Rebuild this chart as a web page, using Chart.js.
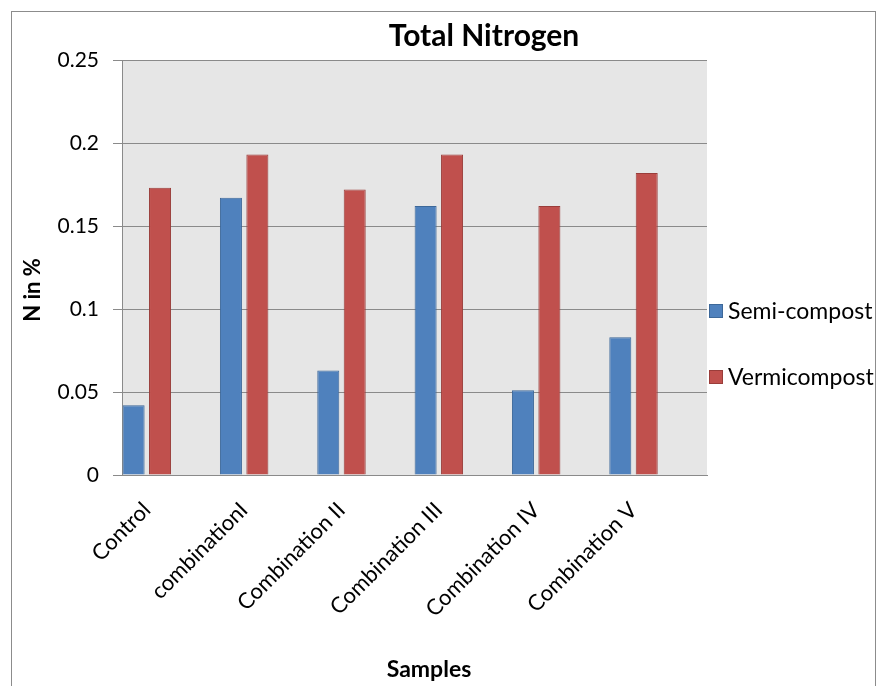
<!DOCTYPE html>
<html>
<head>
<meta charset="utf-8">
<title>Total Nitrogen</title>
<script src="https://cdn.jsdelivr.net/npm/chart.js@4.4.1/dist/chart.umd.min.js"></script>
<style>
  html, body { margin: 0; padding: 0; background: #ffffff; }
  #wrap { position: relative; width: 877px; height: 686px; }
</style>
</head>
<body>
<div id="wrap"><canvas id="chart" width="877" height="686"></canvas></div>
<script>
// Sample names along the x axis
const samples = ['Control', 'combinationI', 'Combination II', 'Combination III', 'Combination IV', 'Combination V'];

// Nitrogen content (N in %) per sample
const semiCompost = [0.042, 0.167, 0.063, 0.162, 0.051, 0.083];
const vermicompost = [0.173, 0.193, 0.172, 0.193, 0.162, 0.182];

// Value axis ticks
const yTicks = [0, 0.05, 0.1, 0.15, 0.2, 0.25];

const seriesNames = ['Semi-compost', 'Vermicompost'];
const FONT = 'Lato, "Open Sans", sans-serif';

// Grey plot background, outer frame, title, axis titles and the legend
const decorations = {
  id: 'decorations',
  beforeDraw(chart) {
    const { ctx, chartArea: a } = chart;
    ctx.save();
    ctx.fillStyle = '#ffffff';
    ctx.fillRect(0, 0, chart.width, chart.height);
    ctx.strokeStyle = '#8c8c8c';
    ctx.lineWidth = 1;
    ctx.strokeRect(11.5, 11.5, 864, 700);
    ctx.fillStyle = '#e6e6e6';
    ctx.fillRect(a.left, a.top, a.right - a.left, a.bottom - a.top);
    ctx.restore();
  },
  afterDraw(chart) {
    const { ctx } = chart;
    ctx.save();
    ctx.fillStyle = '#000000';
    ctx.textBaseline = 'alphabetic';

    // chart title
    ctx.font = 'bold 30px ' + FONT;
    ctx.textAlign = 'center';
    ctx.fillText('Total Nitrogen', 484, 46);

    // x axis title
    ctx.font = 'bold 23px ' + FONT;
    ctx.fillText('Samples', 429, 677);

    // y axis title
    ctx.font = 'bold 22px ' + FONT;
    ctx.save();
    ctx.translate(40, 290);
    ctx.rotate(-Math.PI / 2);
    ctx.textAlign = 'center';
    ctx.fillText('N in %', 0, 0);
    ctx.restore();

    // legend
    ctx.font = '23px ' + FONT;
    ctx.textAlign = 'left';
    ctx.textBaseline = 'middle';
    const rows = [311, 377];
    chart.data.datasets.forEach((ds, i) => {
      const y = rows[i];
      ctx.fillStyle = ds.backgroundColor;
      ctx.fillRect(709, y - 7, 14, 14);
      ctx.strokeStyle = ds.borderColor;
      ctx.lineWidth = 1;
      ctx.strokeRect(709.5, y - 6.5, 13, 13);
      ctx.fillStyle = '#000000';
      ctx.fillText(ds.label, 728, y + 1);
    });
    ctx.restore();
  }
};

new Chart(document.getElementById('chart'), {
  type: 'bar',
  data: {
    datasets: [
      {
        label: seriesNames[0],
        data: semiCompost.map((v, i) => ({ x: i, y: v })),
        backgroundColor: '#4f81bd',
        borderColor: '#3d6899',
        borderWidth: 1
      },
      {
        label: seriesNames[1],
        data: vermicompost.map((v, i) => ({ x: i, y: v })),
        backgroundColor: '#c0504d',
        borderColor: '#9a3d3a',
        borderWidth: 1
      }
    ]
  },
  options: {
    responsive: false,
    animation: false,
    events: [],
    categoryPercentage: 0.543,
    barPercentage: 0.833,
    layout: { padding: { left: 11, top: 60, right: 170, bottom: 0 } },
    plugins: {
      legend: { display: false },
      title: { display: false },
      tooltip: { enabled: false }
    },
    scales: {
      x: {
        type: 'linear',
        offset: false,
        min: -0.255,
        max: 5.755,
        grid: { display: false, drawTicks: false, offset: false },
        border: { display: true, color: '#8a8a8a', width: 1 },
        ticks: {
          stepSize: 1,
          includeBounds: false,
          autoSkip: false,
          minRotation: 45,
          maxRotation: 45,
          padding: 22,
          color: '#000000',
          font: { family: FONT, size: 22 },
          callback: (v) => (Number.isInteger(v) ? samples[v] : '')
        },
        afterFit(scale) { scale.height = 211; }
      },
      y: {
        min: yTicks[0],
        max: yTicks[yTicks.length - 1],
        afterBuildTicks(scale) { scale.ticks = yTicks.map((v) => ({ value: v })); },
        grid: { color: '#8a8a8a', lineWidth: 1, drawTicks: true, tickLength: 9 },
        border: { display: true, color: '#8a8a8a', width: 1 },
        ticks: {
          padding: 14,
          color: '#000000',
          font: { family: FONT, size: 21 },
          callback: (v) => String(v)
        },
        afterFit(scale) { scale.width = 111; }
      }
    }
  },
  plugins: [decorations]
});
</script>
</body>
</html>
